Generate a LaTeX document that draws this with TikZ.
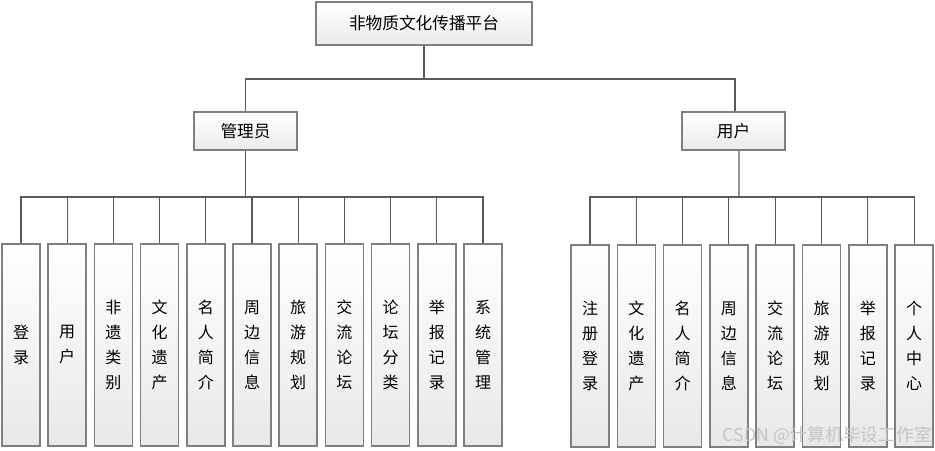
\documentclass[tikz,border=0pt]{standalone}
\usepackage{fontspec}
\newfontfamily\cjk{Noto Sans CJK SC}
\usetikzlibrary{calc}
\definecolor{boxline}{HTML}{7F7F7F}
\definecolor{conn}{HTML}{5A5A5A}
\definecolor{wm}{HTML}{C4C4C4}
\tikzset{
  headbox/.style={draw=boxline, line width=1.1pt, top color=white, bottom color=black!8,
    font=\cjk\fontsize{12.5}{14}\selectfont, inner sep=0pt, align=center},
  leafbox/.style={draw=boxline, line width=1.1pt, top color=white, bottom color=black!9,
    minimum width=38*0.75pt, minimum height=202*0.75pt, inner sep=0pt,
    font=\cjk\fontsize{12}{18.75}\selectfont, align=center},
  conline/.style={draw=conn, line width=0.8pt}
}
\begin{document}
\begin{tikzpicture}[x=0.75pt,y=-0.75pt]
\useasboundingbox (0,0) rectangle (935,450);
% header nodes
\node[headbox, minimum width=216*0.75pt, minimum height=43*0.75pt] (top) at (424,23.5) {非物质文化传播平台};
\node[headbox, minimum width=103*0.75pt, minimum height=38*0.75pt] (adm) at (245.5,131) {管理员};
\node[headbox, minimum width=103*0.75pt, minimum height=38*0.75pt] (usr) at (733.5,131) {用户};
% left leaves
\foreach \t [count=\i from 0] in {登\\录,用\\户,非\\遗\\类\\别,文\\化\\遗\\产,名\\人\\简\\介,周\\边\\信\\息,旅\\游\\规\\划,交\\流\\论\\坛,论\\坛\\分\\类,举\\报\\记\\录,系\\统\\管\\理}{
  \node[leafbox] (L\i) at ({21+46.2*\i},345) {\t};
}
% right leaves
\foreach \t [count=\i from 0] in {注\\册\\登\\录,文\\化\\遗\\产,名\\人\\简\\介,周\\边\\信\\息,交\\流\\论\\坛,旅\\游\\规\\划,举\\报\\记\\录,个\\人\\中\\心}{
  \node[leafbox] (R\i) at ({590+46.3*\i},346) {\t};
}
% connectors
\coordinate (tb) at (424,79);
\coordinate (lb) at (245.5,197);
\coordinate (rb) at (739,197);
\draw[conline] (top.south) -- (tb);
\draw[conline] (adm.north) |- (tb);
\draw[conline] ([xshift=1.1pt]usr.north) |- (tb);
\draw[conline] (adm.south) -- (lb);
\draw[conline] ([xshift=4.1pt]usr.south) -- (rb);
\foreach \i in {0,...,10}{ \draw[conline] (L\i.north) |- (lb); }
\foreach \i in {0,...,7}{ \draw[conline] (R\i.north) |- (rb); }
% watermark
\node[font=\cjk\fontsize{13.3}{15}\selectfont, text=wm, anchor=east, inner sep=0pt] (wmk) at (932,435) {CSDN @计算机毕设工作室};
\end{tikzpicture}
\end{document}
